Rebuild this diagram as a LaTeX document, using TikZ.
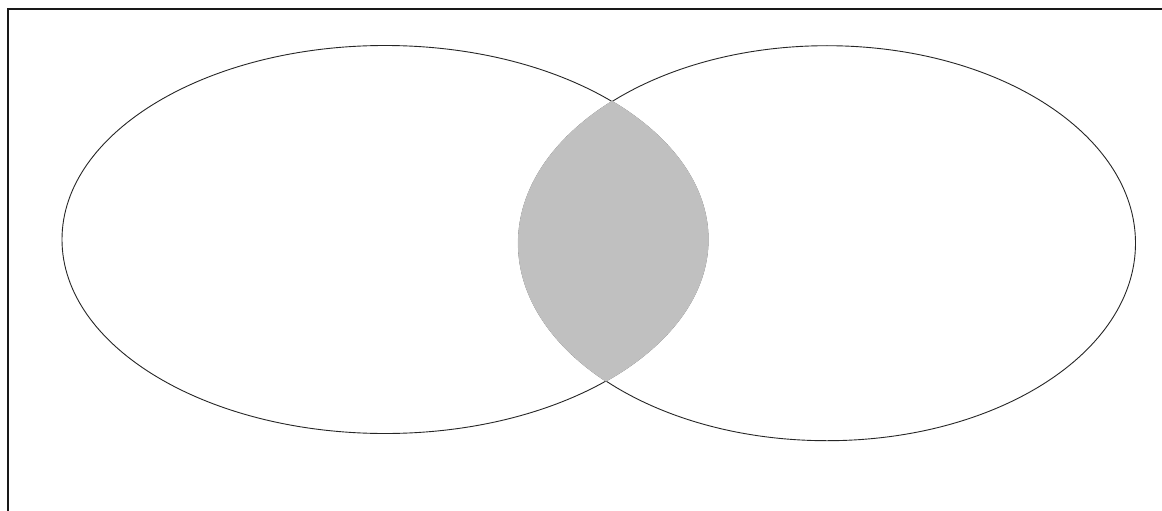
\documentclass[tikz,border=0pt]{standalone}
\definecolor{lensgray}{RGB}{192,192,192}
\tikzset{
  outline/.style={draw=black!85, line width=0.9pt},
  frameline/.style={draw=black!90, line width=2pt},
}
\begin{document}
\begin{tikzpicture}[x=1pt,y=-1pt]
\useasboundingbox (0,0) rectangle (1162,511);
\fill[white] (0,0) rectangle (1162,511);
% frame (only top and left edges visible)
\draw[frameline] (8,520) -- (8,9) -- (1170,9);
% ellipses
\draw[outline] (385,239.5) ellipse [x radius=323, y radius=194];
\draw[outline] (827,243.2) ellipse [x radius=308.5, y radius=197.5];
% intersection lens, covering the outlines inside it
\begin{scope}
  \clip (385,239.5) ellipse [x radius=323.6, y radius=194.6];
  \fill[lensgray] (827,243.2) ellipse [x radius=309.1, y radius=198.1];
\end{scope}
\end{tikzpicture}
\end{document}
